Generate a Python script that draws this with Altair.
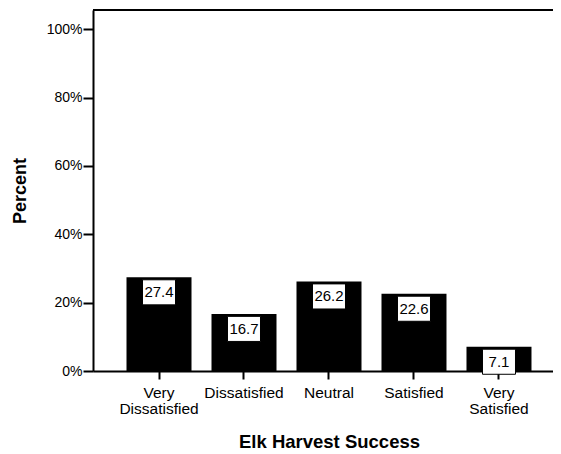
import altair as alt
import pandas as pd

categories = ["Very Dissatisfied", "Dissatisfied", "Neutral", "Satisfied", "Very Satisfied"]
percents = [27.4, 16.7, 26.2, 22.6, 7.1]
labels = ["27.4", "16.7", "26.2", "22.6", "7.1"]
y_ticks = [0, 20, 40, 60, 80, 100]

df = pd.DataFrame({"cat": categories, "pct": percents, "lab": labels})

FONT = "Liberation Sans"
W, H = 460, 361

x = alt.X("cat:N", sort=categories, title="Elk Harvest Success",
          scale=alt.Scale(paddingInner=0.235, paddingOuter=0.3235, align=0.609),
          axis=alt.Axis(labelAngle=0, labelExpr="split(datum.label, ' ')",
                        labelLineHeight=16, labelFontSize=15.5, labelFont=FONT,
                        labelColor="black", labelPadding=6,
                        tickSize=8, tickWidth=2, tickColor="black",
                        domainWidth=2, domainColor="black",
                        titleFont=FONT, titleFontSize=18.5, titleFontWeight="bold",
                        titlePadding=16, titleColor="black", grid=False,
                        titleX=236))
y = alt.Y("pct:Q", title="Percent",
          scale=alt.Scale(domain=[0, 105.6], nice=False),
          axis=alt.Axis(values=y_ticks, format=".0f", labelExpr="datum.label + '%'",
                        labelFontSize=14, labelFont=FONT, labelColor="black",
                        labelPadding=1, tickSize=10, tickWidth=2, tickColor="black",
                        domainWidth=2, domainColor="black",
                        titleFont=FONT, titleFontSize=18, titleFontWeight="bold",
                        titlePadding=17, titleColor="black", grid=False))

bars = alt.Chart(df).mark_bar(color="black", width=65).encode(x=x, y=y)

boxes = alt.Chart(df).mark_point(
    shape="M-1,-0.76 L1,-0.76 L1,0.76 L-1,0.76 Z",
    size=1089, filled=True, fill="white", stroke="black", strokeWidth=1,
    opacity=1, yOffset=15,
).encode(x=x, y=y)

texts = alt.Chart(df).mark_text(
    font=FONT, fontSize=15, color="black", baseline="middle", dy=15,
).encode(x=x, y=y, text="lab:N")

top_line = alt.Chart(df).mark_rule(color="black", strokeWidth=2).encode(
    x=alt.value(0), x2=alt.value(W), y=alt.value(0))

chart = (bars + boxes + texts + top_line).properties(
    width=W, height=H,
    autosize=alt.AutoSizeParams(type="none"),
    padding={"left": 85, "top": 2, "right": 0, "bottom": 80},
).configure_view(stroke="transparent", strokeWidth=0).configure(background="white")

chart.save("out.html", embed_options={"renderer": "svg", "actions": False})
